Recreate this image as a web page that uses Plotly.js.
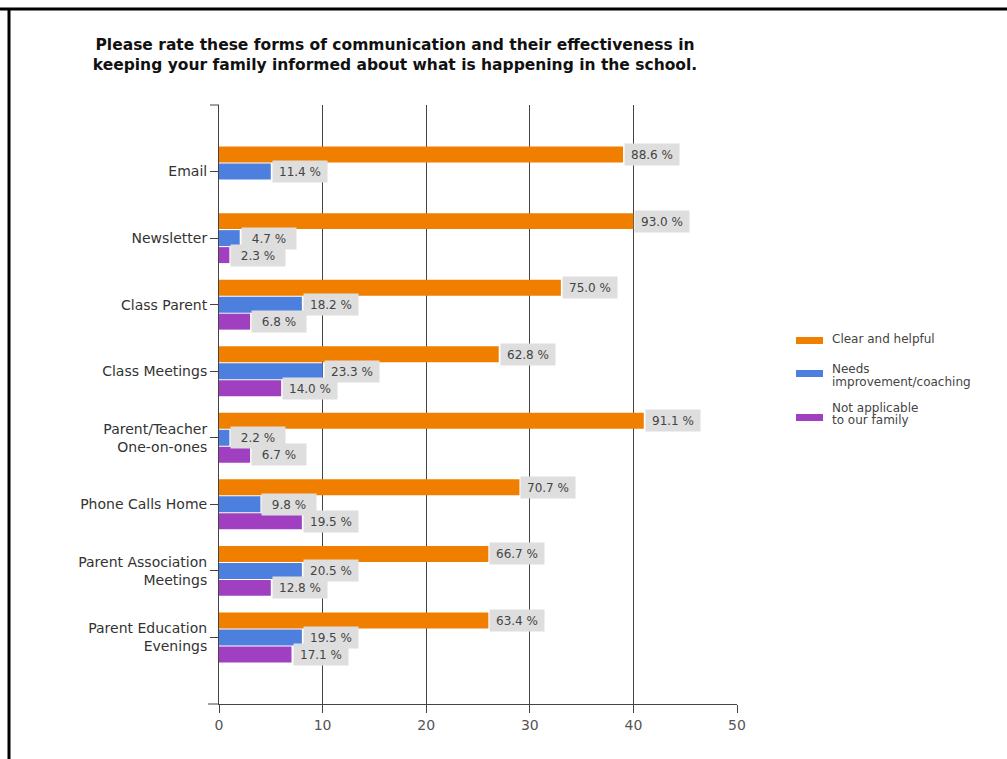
<!DOCTYPE html>
<html>
<head>
<meta charset="utf-8">
<script src="https://cdn.plot.ly/plotly-3.0.1.min.js"></script>
<style>
  html, body { margin: 0; padding: 0; background: #ffffff; }
  #chart { width: 1007px; height: 759px; }
</style>
</head>
<body>
<div id="chart"></div>
<script>
// ---- data ----
const categories = [
  'Email',
  'Newsletter',
  'Class Parent',
  'Class Meetings',
  'Parent/Teacher<br>One-on-ones',
  'Phone Calls Home',
  'Parent Association<br>Meetings',
  'Parent Education<br>Evenings'
];
const seriesNames = ['Clear and helpful', 'Needs<br>improvement/coaching', 'Not applicable<br>to our family'];
const legendLines = [['Clear and helpful'], ['Needs', 'improvement/coaching'], ['Not applicable', 'to our family']];
const clearCounts = [39, 40, 33, 27, 41, 29, 26, 26];
const needsCounts = [5, 2, 8, 10, 1, 4, 8, 8];
const naCounts    = [0, 1, 3, 6, 3, 8, 5, 7];
const clearPct = [88.6, 93.0, 75.0, 62.8, 91.1, 70.7, 66.7, 63.4];
const needsPct = [11.4, 4.7, 18.2, 23.3, 2.2, 9.8, 20.5, 19.5];
const naPct    = [null, 2.3, 6.8, 14.0, 6.7, 19.5, 12.8, 17.1];
const xTicks = [0, 10, 20, 30, 40, 50];
const colors = ['#f07f00', '#4d80de', '#a040c0'];

// ---- layout helpers ----
const W = 1007, H = 759;
const M = {l: 219, r: 270, t: 105, b: 55};
const PW = W - M.l - M.r, PH = H - M.t - M.b;
const px = x => (x - M.l) / PW;
const py = y => (H - M.b - y) / PH;

const counts = [clearCounts, needsCounts, naCounts];
const pcts = [clearPct, needsPct, naPct];
const bargap = 0.234;
const slot = (1 - bargap) / 3;

const traces = counts.map((c, k) => ({
  type: 'bar',
  orientation: 'h',
  name: seriesNames[k],
  y: categories,
  x: c,
  marker: {color: colors[k], line: {width: 0}},
  hoverinfo: 'x+y'
}));

const annotations = [];
pcts.forEach((p, k) => {
  p.forEach((v, i) => {
    if (v === null || counts[k][i] === 0) return;
    annotations.push({
      xref: 'x', yref: 'y',
      x: counts[k][i], y: i + (k - 1) * slot,
      text: v.toFixed(1) + ' %',
      showarrow: false,
      xanchor: 'left', yanchor: 'middle',
      xshift: 1,
      bgcolor: '#dedede',
      borderpad: 4,
      width: 46, height: 13,
      align: 'center',
      font: {family: 'DejaVu Sans', size: 12, color: '#444'}
    });
  });
});

// custom legend
const shapes = [];
const legendSymY = [340.5, 373.5, 417.5];
const legendTextY = [[339], [369, 382], [408, 420]];
legendLines.forEach((lines, k) => {
  shapes.push({
    type: 'rect', xref: 'paper', yref: 'paper',
    x0: px(796), x1: px(823), y0: py(legendSymY[k] - 3.5), y1: py(legendSymY[k] + 3.5),
    fillcolor: colors[k], line: {width: 0}
  });
  lines.forEach((t, j) => {
    annotations.push({
      xref: 'paper', yref: 'paper',
      x: px(830), y: py(legendTextY[k][j]),
      text: t, showarrow: false,
      xanchor: 'left', yanchor: 'middle',
      font: {family: 'DejaVu Sans', size: 12, color: '#444'}
    });
  });
});

// axis end ticks
shapes.push({type: 'line', xref: 'paper', yref: 'paper', x0: px(210), x1: 0, y0: 1, y1: 1, line: {color: '#444', width: 1}});
shapes.push({type: 'line', xref: 'paper', yref: 'paper', x0: px(208), x1: 0, y0: 0, y1: 0, line: {color: '#444', width: 1}});
// frame (top and left)
shapes.push({type: 'line', xref: 'paper', yref: 'paper', x0: px(0), x1: px(W), y0: py(9), y1: py(9), line: {color: '#000', width: 3}});
shapes.push({type: 'line', xref: 'paper', yref: 'paper', x0: px(9), x1: px(9), y0: py(9), y1: py(H), line: {color: '#000', width: 3}});

const layout = {
  width: W, height: H,
  margin: M,
  paper_bgcolor: '#ffffff',
  plot_bgcolor: '#ffffff',
  showlegend: false,
  barmode: 'group',
  bargap: bargap,
  bargroupgap: 0.06,
  title: {
    text: '<b>Please rate these forms of communication and their effectiveness in<br>keeping your family informed about what is happening in the school.</b>',
    font: {family: 'DejaVu Sans', size: 15.5, color: '#111'},
    xref: 'container', x: 395 / W, xanchor: 'center',
    yref: 'container', y: 1 - 50 / H, yanchor: 'top'
  },
  xaxis: {
    range: [0, 50],
    tickvals: xTicks,
    ticktext: xTicks.map(String),
    showgrid: true, gridcolor: '#444', gridwidth: 1,
    zeroline: false,
    showline: true, linecolor: '#444', linewidth: 1,
    ticks: 'outside', ticklen: 8, tickcolor: '#444', tickwidth: 1,
    tickfont: {family: 'DejaVu Sans', size: 14, color: '#555'},
    fixedrange: true
  },
  yaxis: {
    type: 'category',
    categoryorder: 'array', categoryarray: categories,
    range: [8, -1],
    showgrid: false, zeroline: false,
    showline: true, linecolor: '#444', linewidth: 1,
    ticks: 'outside', ticklen: 8, tickcolor: '#444', tickwidth: 1,
    tickfont: {family: 'DejaVu Sans', size: 14, color: '#333'},
    fixedrange: true
  },
  annotations: annotations,
  shapes: shapes
};

Plotly.newPlot('chart', traces, layout, {displayModeBar: false, staticPlot: true});
</script>
</body>
</html>
